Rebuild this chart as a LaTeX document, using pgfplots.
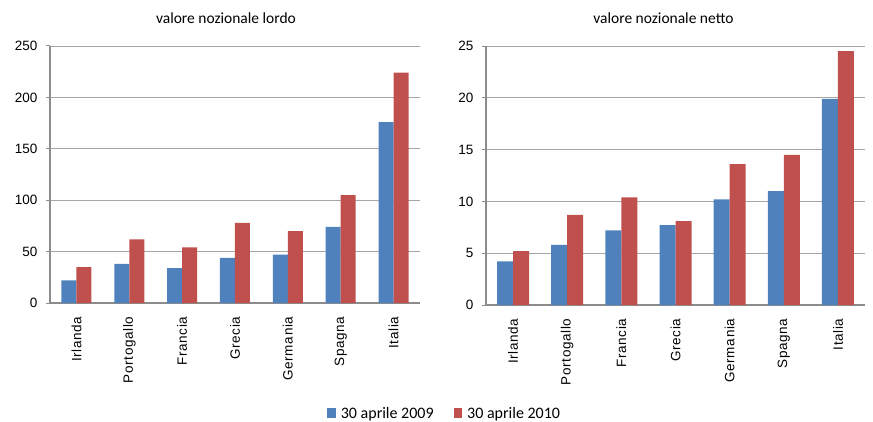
\documentclass[border=0pt]{standalone}
\usepackage{pgfplots}
\pgfplotsset{compat=1.18}
\usepackage{fontspec}
\setmainfont{Liberation Sans}
\newfontfamily\legfont{Carlito}
\newfontfamily\tickfont[LetterSpace=5]{Liberation Sans}
\definecolor{cblue}{HTML}{4F81BD}
\definecolor{cred}{HTML}{C0504D}
\definecolor{gridc}{HTML}{A6A6A6}
\definecolor{axc}{HTML}{8C8C8C}
\pgfplotsset{
 mystyle/.style={
  scale only axis, ybar=0pt, bar width=15pt,
  xmin=-0.5, xmax=6.5, ymin=0, enlargelimits=false,
  axis x line*=bottom, axis y line*=left,
  axis line style={axc, line width=1.2pt},
  ymajorgrids, grid style={gridc, line width=0.8pt},
  xtick={0,...,6},
  xticklabels={Irlanda,Portogallo,Francia,Grecia,Germania,Spagna,Italia},
  xticklabel style={rotate=90, anchor=east, font=\tickfont\fontsize{13.5}{15}\selectfont},
  xticklabel shift=6pt,
  x tick style={draw=none},
  extra x ticks={-0.5,0.5,...,6.5}, extra x tick labels={},
  extra x tick style={grid=none, tick style={axc, line width=1pt, draw=axc}, major tick length=5pt, tick align=outside},
  y tick style={axc, line width=1pt}, tick align=outside, major tick length=4pt,
  yticklabel style={font=\fontsize{13.5}{15}\selectfont, xshift=-5pt},
  /pgf/number format/assume math mode=true,
  title style={font=\legfont\fontsize{15.5}{17}\selectfont, anchor=center, at={(0.5,1)}, yshift=22pt},
  every axis plot/.append style={draw=none},
 }
}
\begin{document}
\begin{tikzpicture}
\path[use as bounding box] (0,0) rectangle (873pt,421pt);
\begin{axis}[mystyle, at={(50pt,118pt)}, anchor=south west, width=370pt, height=257pt,
  ymax=250, ytick={0,50,...,250}, bar width=15pt,
  title={valore nozionale lordo}, title style={xshift=-9pt}]
\addplot[fill=cblue] coordinates {(0,22) (1,38) (2,34) (3,44) (4,47) (5,74) (6,176)};
\addplot[fill=cred] coordinates {(0,35) (1,62) (2,54) (3,78) (4,70) (5,105) (6,224)};
\end{axis}
\begin{axis}[mystyle, at={(486pt,116pt)}, anchor=south west, width=379pt, height=259pt,
  ymax=25, ytick={0,5,...,25}, bar width=16pt,
  title={valore nozionale netto}, title style={xshift=-12pt},
  legend style={at={(-0.109,-0.42)}, anchor=center, draw=none, legend columns=2,
    font=\legfont\fontsize{16}{18}\selectfont,
    /tikz/every odd column/.append style={column sep=3pt},
    /tikz/every even column/.append style={column sep=18pt}},
  legend image code/.code={\fill[#1] (0pt,-4pt) rectangle (8.5pt,5.5pt);}]
\addplot[fill=cblue] coordinates {(0,4.2) (1,5.8) (2,7.2) (3,7.7) (4,10.2) (5,11.0) (6,19.9)};
\addplot[fill=cred] coordinates {(0,5.2) (1,8.7) (2,10.4) (3,8.1) (4,13.6) (5,14.5) (6,24.5)};
\legend{30 aprile 2009, 30 aprile 2010}
\end{axis}
\end{tikzpicture}
\end{document}
